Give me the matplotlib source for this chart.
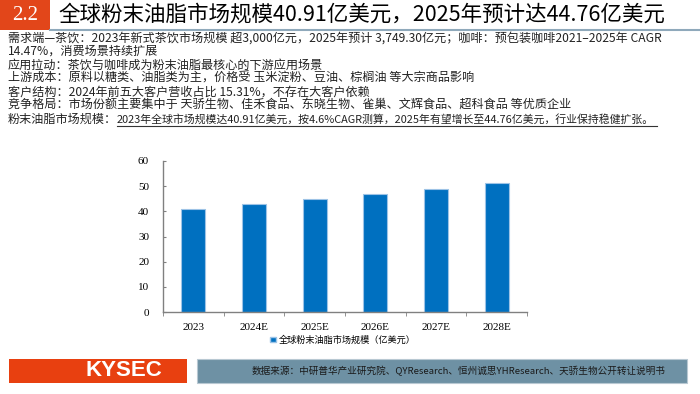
import matplotlib
matplotlib.use('Agg')
import matplotlib.pyplot as plt
from matplotlib.patches import Rectangle, Patch
from matplotlib.lines import Line2D

# data
years = ['2023', '2024E', '2025E', '2026E', '2027E', '2028E']
market_size = [40.91, 42.79, 44.76, 46.82, 48.97, 51.23]
y_ticks = [0, 10, 20, 30, 40, 50, 60]

section_no = '2.2'
title = '全球粉末油脂市场规模40.91亿美元，2025年预计达44.76亿美元'
body_lines = [
    '需求端—茶饮：2023年新式茶饮市场规模 超3,000亿元，2025年预计 3,749.30亿元；咖啡：预包装咖啡2021–2025年 CAGR',
    '14.47%，消费场景持续扩展',
    '应用拉动：茶饮与咖啡成为粉末油脂最核心的下游应用场景',
    '上游成本：原料以糖类、油脂类为主，价格受 玉米淀粉、豆油、棕榈油 等大宗商品影响',
    '客户结构：2024年前五大客户营收占比 15.31%，不存在大客户依赖',
    '竞争格局：市场份额主要集中于 天骄生物、佳禾食品、东晓生物、雀巢、文辉食品、超科食品 等优质企业',
]
last_head = '粉末油脂市场规模：'
last_tail = '2023年全球市场规模达40.91亿美元，按4.6%CAGR测算，2025年有望增长至44.76亿美元，行业保持稳健扩张。'
legend_label = '全球粉末油脂市场规模（亿美元）'
source = '数据来源：中研普华产业研究院、QYResearch、恒州诚思YHResearch、天骄生物公开转让说明书'

CJK = ['Noto Sans CJK SC', 'DejaVu Sans']
SERIF = ['Liberation Serif', 'DejaVu Serif']
W, H = 700, 394
BODY_SIZE = 8.7


def fx(px):
    return px / W


def fy(py):
    return 1 - py / H


fig = plt.figure(figsize=(7, 3.94), dpi=100)
fig.patch.set_facecolor('white')

# header
fig.patches.append(Rectangle((0, fy(30)), fx(50), 30 / H, transform=fig.transFigure,
                             facecolor='#E2461A', edgecolor='none'))
fig.text(fx(25), fy(15), section_no, color='white', fontsize=15, family=SERIF,
         ha='center', va='center')
fig.text(fx(58), fy(15), title, fontsize=15.5, family=CJK, ha='left', va='center')
fig.lines.append(Line2D([fx(50), 1], [fy(30), fy(30)], transform=fig.transFigure,
                        color='#8FA9BB', lw=1.5))

# body text
row_y = [38, 51, 65, 78, 92, 105, 119]
for line, y in zip(body_lines, row_y):
    fig.text(fx(8), fy(y), line, fontsize=BODY_SIZE, family=CJK, color='#222222',
             ha='left', va='center')
fig.text(fx(8), fy(row_y[-1]), last_head, fontsize=BODY_SIZE, family=CJK,
         color='#222222', ha='left', va='center')
# underlined part: squeeze it between x=117 and x=657 like the reference
tail = fig.text(fx(117), fy(row_y[-1]), last_tail, fontsize=BODY_SIZE, family=CJK,
                color='#222222', ha='left', va='center')
fig.canvas.draw()
r = fig.canvas.get_renderer()
tw = tail.get_window_extent(r).width
tail.set_fontsize(BODY_SIZE * min(1.0, 540 / tw))
fig.lines.append(Line2D([fx(117), fx(657)], [fy(row_y[-1] + 6.5), fy(row_y[-1] + 6.5)],
                        transform=fig.transFigure, color='#333333', lw=0.8))

# chart
ax = fig.add_axes([fx(163), fy(312), fx(527) - fx(163), (312 - 161) / H])
x = list(range(len(years)))
ax.bar(x, market_size, width=0.4, color='#0070C0', edgecolor='#9DC3E6', linewidth=0.8)
ax.set_xlim(-0.5, len(years) - 0.5)
ax.set_ylim(0, 60)
ax.set_yticks(y_ticks)
ax.set_xticks(x)
ax.set_xticklabels(years)
ax.set_xticks([i - 0.5 for i in range(len(years) + 1)], minor=True)
ax.tick_params(axis='x', which='major', length=0, pad=8)
ax.tick_params(axis='x', which='minor', length=3, color='#808080')
ax.tick_params(axis='y', length=2, direction='in', color='#808080', pad=10)
for lab in ax.get_xticklabels() + ax.get_yticklabels():
    lab.set_family(SERIF)
    lab.set_fontsize(8)
for s in ['top', 'right']:
    ax.spines[s].set_visible(False)
for s in ['left', 'bottom']:
    ax.spines[s].set_color('#808080')
    ax.spines[s].set_linewidth(1)

leg = ax.legend(handles=[Patch(facecolor='#0070C0', edgecolor='#9DC3E6')], labels=[legend_label],
                loc='center', frameon=False, prop={'family': CJK, 'size': 6.6},
                handlelength=0.6, handleheight=0.6, handletextpad=0.3)
leg.set_bbox_to_anchor((fx(343), fy(340)), transform=fig.transFigure)

# footer
fig.patches.append(Rectangle((fx(9), fy(383)), fx(187) - fx(9), 24 / H, transform=fig.transFigure,
                             facecolor='#E84010', edgecolor='none'))
fig.text(fx(124), fy(371), 'KYSEC', color='white', fontsize=16, fontweight='bold',
         family=['Liberation Sans', 'DejaVu Sans'], ha='center', va='center')
fig.patches.append(Rectangle((fx(197), fy(383)), fx(687) - fx(197), 24 / H, transform=fig.transFigure,
                             facecolor='#6E91A4', edgecolor='#B8C8D2', linewidth=0.8))
fig.text(fx(252), fy(371), source, color='#1A1A1A', fontsize=6.9, family=CJK,
         ha='left', va='center')

fig.savefig('out.png', dpi=100)
